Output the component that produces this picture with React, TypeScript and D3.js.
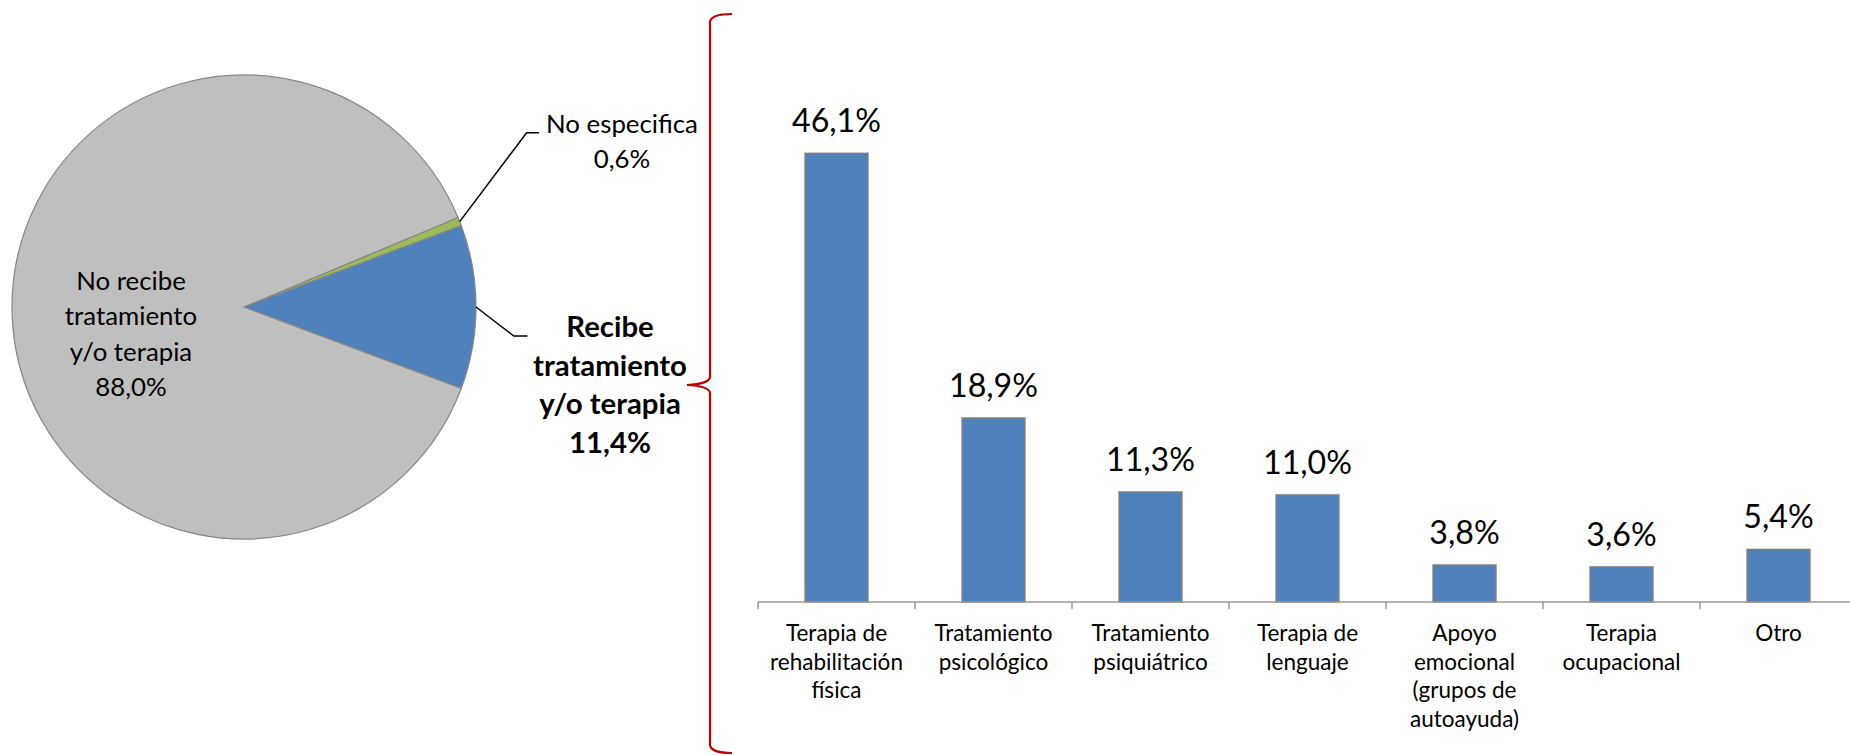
import React from "react";
import * as d3 from "d3";

const pieLabels = ["No especifica", "Recibe tratamiento y/o terapia", "No recibe tratamiento y/o terapia"];
const pieValues = [0.6, 11.4, 88.0];
const pieColors = ["#9BBB59", "#4F81BD", "#BFBFBF"];

const categories = [
  "Terapia de\nrehabilitación\nfísica",
  "Tratamiento\npsicológico",
  "Tratamiento\npsiquiátrico",
  "Terapia de\nlenguaje",
  "Apoyo\nemocional\n(grupos de\nautoayuda)",
  "Terapia\nocupacional",
  "Otro",
];
const barValues = [46.1, 18.9, 11.3, 11.0, 3.8, 3.6, 5.4];

const fmt = (v: number) => v.toFixed(1).replace(".", ",") + "%";
const FONT = "Lato, 'Open Sans', sans-serif";

// choose a font size so that a sample string has the given width (fonts differ from the original)
function fitSize(sample: string, width: number, fallback: number, weight = "normal") {
  try {
    const c = document.createElement("canvas").getContext("2d");
    if (!c) return fallback;
    c.font = `${weight} 100px Lato, 'Open Sans', sans-serif`;
    const w = c.measureText(sample).width;
    if (!w) return fallback;
    return (100 * width) / w;
  } catch (e) {
    return fallback;
  }
}

export default function App() {
  const W = 1850, H = 755;

  const valueSize = fitSize("46,1%", 89, 32);
  const catSize = fitSize("rehabilitación", 133, 22);
  const pieSize = Math.min(fitSize("tratamiento", 142, 25), fitSize("No especifica", 152, 25));
  const boldSize = fitSize("tratamiento", 154, 27, "bold");

  // Pie
  const cx = 244, cy = 307, r = 232;
  const total = d3.sum(pieValues);
  const blueHalf = (pieValues[1] / total) * Math.PI;
  const start = Math.PI / 2 - blueHalf - (pieValues[0] / total) * 2 * Math.PI;
  const pie = d3.pie<number>().sort(null).startAngle(start).endAngle(start + 2 * Math.PI);
  const arcs = pie(pieValues);
  const arcGen = d3.arc<d3.PieArcDatum<number>>().innerRadius(0).outerRadius(r);

  const edgePoint = (a: number) => [cx + r * Math.sin(a), cy - r * Math.cos(a)];
  const greenMid = (arcs[0].startAngle + arcs[0].endAngle) / 2;
  const blueMid = (arcs[1].startAngle + arcs[1].endAngle) / 2;
  const gp = edgePoint(greenMid);
  const bp = edgePoint(blueMid);

  // Bars
  const x = d3.scaleBand<string>().domain(categories).range([758, 758 + 7 * 157]).paddingInner(0.6).paddingOuter(0.3);
  const y = d3.scaleLinear().domain([0, 50]).range([602, 602 - 50 * 9.733]);
  const step = x.step();
  const x0 = 758;

  return (
    <svg width={W} height={H} style={{ position: "absolute", left: 0, top: 0, background: "#fff" }} fontFamily={FONT}>
      {/* Pie */}
      <g transform={`translate(${cx},${cy})`}>
        {arcs.map((a, i) => (
          <path key={pieLabels[i]} d={arcGen(a) || ""} fill={pieColors[i]} stroke="#868686" strokeWidth={1.2} />
        ))}
      </g>
      <text textAnchor="middle" fontSize={pieSize} fill="#000">
        {["No recibe", "tratamiento", "y/o terapia", fmt(pieValues[2])].map((t, i) => (
          <tspan key={i} x={131} y={289.5 + i * 35.6}>{t}</tspan>
        ))}
      </text>
      <path d={`M${gp[0]},${gp[1]} L526.6,132.7 L539,132.7`} fill="none" stroke="#000" strokeWidth={1.5} />
      <text textAnchor="middle" fontSize={pieSize} fill="#000">
        {["No especifica", fmt(pieValues[0])].map((t, i) => (
          <tspan key={i} x={622} y={132.7 + i * 35.6}>{t}</tspan>
        ))}
      </text>
      <path d={`M${bp[0]},${bp[1]} L513.8,336 L527.5,336`} fill="none" stroke="#000" strokeWidth={1.5} />
      <text textAnchor="middle" fontSize={boldSize} fontWeight="bold" fill="#000">
        {["Recibe", "tratamiento", "y/o terapia", fmt(pieValues[1])].map((t, i) => (
          <tspan key={i} x={610} y={336.7 + i * 38.8}>{t}</tspan>
        ))}
      </text>

      {/* Brace */}
      <path
        d="M732,14 Q711,14 710,22 L710,377 Q709,384 687,385 Q709,386 710,393 L710,745 Q711,753 732,753"
        fill="none" stroke="#C00000" strokeWidth={2.2}
      />

      {/* Bars */}
      {categories.map((c, i) => (
        <rect key={c} x={x(c)} y={y(barValues[i])} width={x.bandwidth()} height={y(0) - y(barValues[i])}
          fill="#4F81BD" stroke="#7F7F7F" strokeWidth={1.5} />
      ))}
      <line x1={x0} x2={W} y1={y(0)} y2={y(0)} stroke="#9A9A9A" strokeWidth={1.5} />
      {d3.range(categories.length + 1).map((i) => (
        <line key={i} x1={x0 + i * step} x2={x0 + i * step} y1={y(0)} y2={y(0) + 7} stroke="#9A9A9A" strokeWidth={1.5} />
      ))}
      {categories.map((c, i) => (
        <text key={c} textAnchor="middle" fontSize={valueSize} fill="#000" x={(x(c) || 0) + x.bandwidth() / 2} y={y(barValues[i]) - 21}>
          {fmt(barValues[i])}
        </text>
      ))}
      {categories.map((c) => (
        <text key={c} textAnchor="middle" fontSize={catSize} fill="#000">
          {c.split("\n").map((t, j) => (
            <tspan key={j} x={(x(c) || 0) + x.bandwidth() / 2} y={641 + j * 28.6}>{t}</tspan>
          ))}
        </text>
      ))}
    </svg>
  );
}
